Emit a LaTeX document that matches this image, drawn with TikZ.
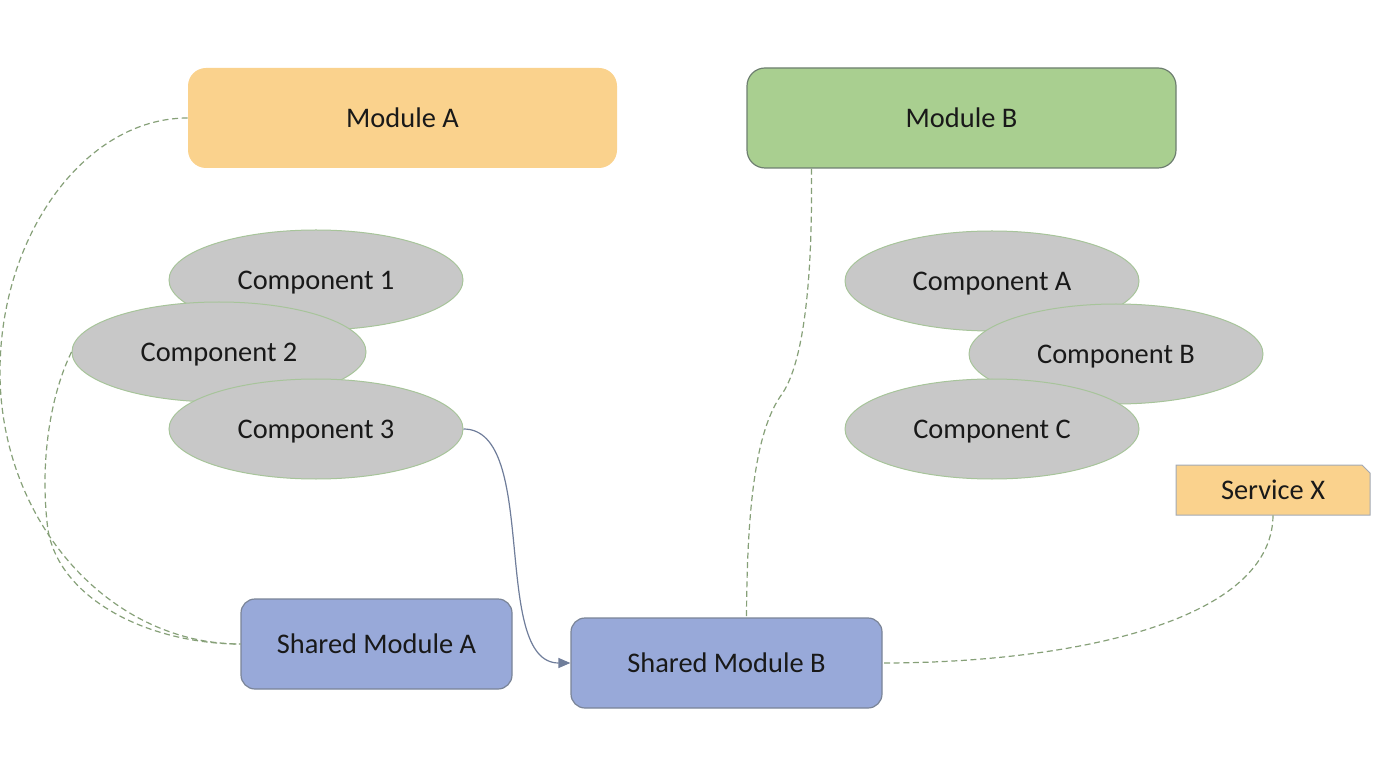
\documentclass[tikz,border=0pt]{standalone}
\usepackage{fontspec}
\setmainfont{Carlito}
\usetikzlibrary{shapes.geometric,arrows.meta}
\definecolor{modA}{HTML}{FAD28D}
\definecolor{modB}{HTML}{A9CF90}
\definecolor{modBd}{HTML}{6E7F70}
\definecolor{comp}{HTML}{C8C8C8}
\definecolor{compd}{HTML}{A7C49A}
\definecolor{shared}{HTML}{98A9D9}
\definecolor{sharedd}{HTML}{7A8497}
\definecolor{link}{HTML}{86A078}
\definecolor{arrowc}{HTML}{6F7D9A}
\tikzset{
  txt/.style={font=\fontsize{14.2}{17}\selectfont, text=black!90, text depth=0pt},
  modbox/.style={txt, rounded corners=9pt, minimum width=214.5pt, minimum height=50pt, inner sep=0pt},
  shbox/.style={txt, rounded corners=7pt, draw=sharedd, line width=0.6pt, fill=shared, inner sep=0pt},
  compell/.style={txt, ellipse, fill=comp, draw=compd, line width=0.5pt, minimum width=147pt, minimum height=50pt, inner sep=0pt},
  dashlink/.style={draw=link, line width=0.6pt, dash pattern=on 3pt off 1.8pt},
  arrowlink/.style={draw=arrowc, line width=0.6pt, -{Triangle[length=6pt,width=5pt]}}
}
\begin{document}
\begin{tikzpicture}[x=0.5pt,y=-0.5pt]
\useasboundingbox (0,0) rectangle (1400,769);
% modules
\node[modbox, fill=modA] (mA) at (402.5,118) {Module A};
\node[modbox, fill=modB, draw=modBd, line width=0.6pt] (mB) at (961.5,118) {Module B};
% components left
\node[compell] (c1) at (316,280) {Component 1};
\node[compell] (c2) at (219,352) {Component 2};
\node[compell] (c3) at (316,429) {Component 3};
% components right
\node[compell] (ca) at (992,281) {Component A};
\node[compell] (cb) at (1116,354) {Component B};
\node[compell] (cc) at (992,429) {Component C};
% service X (snipped corner)
\path[fill=modA, draw=sharedd!70, line width=0.5pt] (1176,515) -- (1176,465) -- (1362,465) -- (1370,473) -- (1370,515) -- cycle;
\node[txt, minimum width=97pt, minimum height=25pt, inner sep=0pt] (sx) at (1273,490) {Service X};
% shared modules
\node[shbox, minimum width=135.5pt, minimum height=45pt] (sA) at (376.5,644) {Shared Module A};
\node[shbox, minimum width=155.5pt, minimum height=45pt] (sB) at (726.5,663) {Shared Module B};
% connectors
\coordinate (k1) at (0,372);
\coordinate (k2) at (48,530);
\coordinate (k3) at (782,394);
\draw[dashlink] (mA.west) .. controls (85,118) and (0,235) .. (k1)
  .. controls (0,520) and (108,644) .. (sA.west);
\draw[dashlink] (c2.west) .. controls (48,400) and (40,470) .. (k2)
  .. controls (60,600) and (150,644) .. (sA.west);
\draw[arrowlink] (c3.east) .. controls (540,429) and (490,663) .. (sB.west);
\draw[dashlink] ([xshift=32.5pt]mB.south west) .. controls (813,300) and (800,368) .. (k3)
  .. controls (757,428) and (747,500) .. ([xshift=10pt]sB.north);
\draw[dashlink] (sx.south) .. controls (1272,625) and (1060,663) .. (sB.east);
\end{tikzpicture}
\end{document}
